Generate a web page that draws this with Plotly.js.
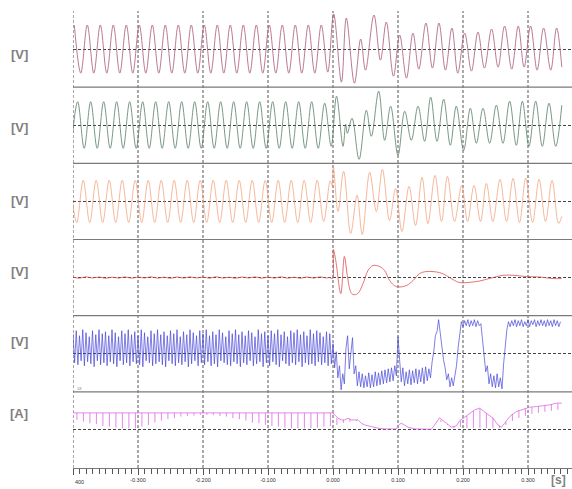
<!DOCTYPE html>
<html>
<head>
<meta charset="utf-8">
<script src="https://cdn.plot.ly/plotly-3.0.1.min.js"></script>
<style>html,body{margin:0;padding:0;background:#fff;}#chart{width:572px;height:489px;}</style>
</head>
<body>
<div id="chart"></div>
<script>
// ---------------- DATA (in panel units) ----------------
var tickVals = [-0.4, -0.3, -0.2, -0.1, 0.0, 0.1, 0.2, 0.3];
var tickText = ['', '-0.300', '-0.200', '-0.100', '0.000', '0.100', '0.200', '0.300'];
var firstTickText = '400';
var unitLabels = ['[V]', '[V]', '[V]', '[V]', '[V]', '[A]'];
var timeUnit = '[s]';

// Panel 1: extremes before the fault, every half period starting at v1PreStart
var halfPeriod = 0.01;
var v1PreStart = -0.398;
var v1Pre = [24,-24,24,-24,24,-24,24,-24,24,-24,24,-24,24,-24,24,-24,24,-24,24,-24,
             24,-24,24,-24,24,-24,24,-24,24,-24,24,-24,24,-24,24,-24,24,-24,24,-23];
var v1PostT = [0.001,0.013,0.0205,0.033,0.0426,0.05,0.063,0.073,0.082,0.093,0.1026,0.113,0.123,0.132,0.143,0.153,0.163,0.173,0.183,0.192,
               0.2026,0.213,0.223,0.233,0.244,0.254,0.264,0.275,0.285,0.294,0.304,0.314,0.324,0.335,0.344,0.352];
var v1PostV = [35,-33,31,-34,10,-21,34,-11,27,-27,14,-29,16,-20,26,-19,26,-21,21,-24,
               16,-22,17,-19,20,-18,23,-20,23,-18,23,-21,21,-21,21,-18];

// Panel 2
var v2PreStart = -0.4028;
var v2Pre = [-23,23.5,-23,23.5,-23,23.5,-23,23.5,-23,23.5,-23,23.5,-23,23.5,-23,23.5,-23,23.5,-23,23.5,
             -23,23.5,-23,23.5,-23,23.5,-23,23.5,-23,23.5,-23,23.5,-23,23.5,-23,23.5,-23,23.5,-23,22,-21];
var v2PostT = [0.0054,0.0154,0.0195,0.0221,0.0293,0.0401,0.0513,0.059,0.0703,0.0795,0.0887,0.1,0.1103,0.1205,0.1308,0.141,0.1503,0.16,0.1703,0.1805,
               0.1897,0.201,0.2113,0.2205,0.2308,0.241,0.2513,0.2615,0.2718,0.282,0.2913,0.3015,0.3118,0.322,0.3323,0.3426,0.352];
var v2PostV = [29,-21,1,-8,7,-34,15,-11,34,-15,19,-30,14,-15,19,-16,28,-16,26,-20,
               19,-25,17,-18,17,-18,20,-18,24,-20,24,-21,24,-21,22,-21,20];

// Panel 3
var v3PreStart = -0.4043;
var v3Pre = [21,-21,21,-21,21,-21,21,-21,21,-21,21,-21,21,-21,21,-21,21,-21,21,-21,
             21,-21,21,-21,21,-21,21,-21,21,-21,21,-21,21,-21,21,-21,21,-21,21,-20,20.5];
var v3PostT = [-0.0015,0.0006,0.0077,0.0164,0.0272,0.037,0.045,0.0564,0.0667,0.076,0.087,0.0964,0.106,0.117,0.127,0.137,0.146,0.157,0.167,0.176,
               0.187,0.198,0.207,0.217,0.227,0.236,0.246,0.257,0.267,0.277,0.287,0.2965,0.307,0.317,0.327,0.337,0.347,0.352];
var v3PostV = [16,35,-10,30,-32,6,-33,29,-10,32,-19,13,-30,15,-24,24,-22,26,-20,25,
               -20,16,-20,16,-20,18,-20,22,-20,23,-21,23,-21,22,-20,21,-22,-15];

// Panel 4: small ripple before the fault (every 0.01 s from -0.4), then the transient
var v4PreStart = -0.4;
var v4Pre = [0.5,-0.6,0.8,-0.4,0.6,-0.7,0.4,-0.5,0.7,-0.6,0.5,-0.4,0.8,-0.6,0.4,-0.7,0.6,-0.5,0.7,-0.4,
             0.5,-0.6,0.8,-0.5,0.4,-0.7,0.6,-0.4,0.7,-0.6,0.5,-0.5,0.8,-0.6,0.4,-0.7,0.6,-0.5,0.7,-0.4];
var v4PostT = [-0.005,-0.0008,0.0006,0.004,0.012,0.0175,0.022,0.027,0.031,0.038,0.0462,0.0538,0.0615,0.0718,0.0795,0.0872,0.0974,0.1128,0.1231,0.1333,
               0.1436,0.1641,0.1744,0.1846,0.1949,0.2051,0.2256,0.2462,0.2615,0.2769,0.2974,0.3179,0.3385,0.352];
var v4PostV = [0,-1,28,18,-16,21,2,-14,-17,-16,-6,7,12,11,7,-3,-9,-8,-3,4,
               6,5,2,-2,-5,-5,-3.4,0,2.3,2.3,1,0.6,-1,-1];

// Panel 5: sampled every 0.0025 s
var v5Dt = 0.0025;
var v5PreStart = -0.4;
var v5Pre = [20,-9,23,-11,18,-7,24,-12,21,-8,17,-10,23,-13,19,-7,24,-11,20,-9,
             22,-12,18,-8,24,-10,21,-13,17,-7,23,-11,20,-9,24,-12,19,-8,22,-10,
             18,-11,24,-13,21,-7,17,-9,23,-12,20,-10,24,-8,19,-11,22,-13,18,-7,
             23,-10,20,-12,24,-9,17,-11,22,-8,19,-13,24,-10,21,-7,18,-12,23,-9,
             20,-11,24,-8,18,-12,22,-10,19,-13,24,-7,21,-9,17,-11,23,-12,20,-8,
             24,-10,19,-13,22,-9,18,-11,23,-7,21,-12,17,-10,24,-8,20,-13,22,-9,
             18,-12,23,-8,20,-11,24,-13,19,-7,22,-10,17,-12,23,-9,21,-11,24,-8,
             19,-13,22,-9,18,-11,24,-10,20,-12,23,-8,21,-11,17,-9,22,-12,20,-10];
var v5PostStart = 0.0;
var v5Post = [10,-14,2,-24,-12,-36,-20,-30,6,18,
              -15,4,16,-20,-12,-32,-18,-33,-20,-34,
              -22,-33,-19,-34,-21,-33,-18,-32,-19,-31,
              -17,-30,-16,-29,-15,-28,-14,-27,-12,-22,
              17,-6,-28,-14,-32,-18,-30,-16,-31,-17,
              -29,-15,-30,-16,-28,-14,-30,-13,-27,-15,
              -24,-8,2,18,22,34,20,10,-6,-14,
              -26,-20,-33,-24,-32,-22,-12,6,22,32,
              27,33,28,34,27,33,28,34,27,33,
              28,30,14,-2,-18,-12,-30,-20,-33,-22,
              -34,-20,-33,-24,-35,-10,12,24,32,27,
              33,28,34,27,33,28,34,27,32,28,
              34,27,33,29,34,27,33,28,34,28,
              33,27,34,28,33,27,34,28,33,27,
              32];

// Panel 6: envelope curve plus periodic commutation notches (every 0.01 s from notchStart)
var v6BaseT = [-0.4,-0.3,-0.2,-0.1,0.0,0.0026,0.0077,0.0128,0.018,0.023,0.0282,0.0333,0.0385,0.0436,0.0487,0.059,0.0692,0.0795,0.0897,0.0974,
               0.101,0.105,0.11,0.1154,0.1256,0.141,0.1513,0.1564,0.164,0.1744,0.182,0.1898,0.195,0.2026,0.2103,0.218,0.2256,0.2359,0.2462,0.2538,
               0.259,0.2641,0.2718,0.282,0.2923,0.3026,0.3128,0.323,0.3333,0.3436,0.352];
var v6BaseV = [17,17,17,17,17,15,11.7,10,10,11.7,10,10,10,6.7,5,3.3,1.7,1,0.7,1,
               5,6.7,5,2.7,1,0.7,0.7,5,12,6.7,2.7,4,9.3,12.7,16.7,20,21.7,16.7,11.7,5,
               2.7,6.7,13.3,18.3,20.7,22.7,23.3,24,25,26.7,26.7];
var notchStart = -0.394;
var notchTop = [17,17,17,17,17,17,17,17,17,17,17,17,17,17,17,17,17,17,17,17,
                17,17,17,17,17,17,17,17,17,17,17,17,17,17,17,17,17,17,17,17,
                12,10,11,10,6,4,2,1,0.7,1,6,2.7,1,0.7,0.7,5,
                10,6,3,9,14,19,21.5,17,12,4,8,16,19,21,22.5,23.5,24.5,25.5,26.5];
var notchBottom = [10,8.3,6.7,6,4,3.3,2.3,1.7,1.7,1.7,3.3,5,7.3,9.3,10.7,11.7,13.3,14,14.3,15,
                   15,15,14,13.3,11.7,10.7,9.3,7.3,6.7,5,4,3.3,2.3,1.7,1.7,1.7,1.7,2.3,3.3,4,
                   5,7,8,9,6,4,2,1,0.7,1,6,2.7,1,0.7,0.7,5,
                   8,5,2,3,2,2,2,2,2,2,5,9,12,14,16,17,18,19,20];

var colors = ['#a8587a', '#587e64', '#f4a482', '#dc5050', '#4646d8', '#e066e6'];

// ---------------- BUILD ----------------
function seq(start, step, n) {
  var out = [];
  for (var i = 0; i < n; i++) out.push(+(start + i * step).toFixed(6));
  return out;
}

var traces = [];
function waveTrace(x, y, axis, color, shape, width) {
  return {x: x, y: y, xaxis: 'x', yaxis: axis, type: 'scatter', mode: 'lines',
          line: {color: color, width: width, shape: shape, smoothing: 1}, hoverinfo: 'skip'};
}
traces.push(waveTrace(seq(v1PreStart, halfPeriod, v1Pre.length).concat(v1PostT), v1Pre.concat(v1PostV), 'y', colors[0], 'spline', 0.8));
traces.push(waveTrace(seq(v2PreStart, halfPeriod, v2Pre.length).concat(v2PostT), v2Pre.concat(v2PostV), 'y2', colors[1], 'spline', 0.8));
traces.push(waveTrace(seq(v3PreStart, halfPeriod, v3Pre.length).concat(v3PostT), v3Pre.concat(v3PostV), 'y3', colors[2], 'spline', 0.8));
traces.push(waveTrace(seq(v4PreStart, halfPeriod, v4Pre.length).concat(v4PostT), v4Pre.concat(v4PostV), 'y4', colors[3], 'spline', 0.8));
traces.push(waveTrace(seq(v5PreStart, v5Dt, v5Pre.length).concat(seq(v5PostStart, v5Dt, v5Post.length)), v5Pre.concat(v5Post), 'y5', colors[4], 'linear', 0.7));
traces.push(waveTrace(v6BaseT, v6BaseV, 'y6', colors[5], 'linear', 0.8));
// notches: vertical segments
var nx = [], ny = [], nt = seq(notchStart, halfPeriod, notchTop.length);
for (var k = 0; k < nt.length; k++) {
  nx.push(nt[k], nt[k], null);
  ny.push(notchTop[k], notchBottom[k], null);
}
traces.push({x: nx, y: ny, xaxis: 'x', yaxis: 'y6', type: 'scatter', mode: 'lines',
             connectgaps: false, line: {color: colors[5], width: 0.8}, hoverinfo: 'skip'});

var nPanels = 6;
var layout = {
  width: 572, height: 489,
  margin: {l: 73, r: 0, t: 11, b: 21, pad: 0},
  paper_bgcolor: '#ffffff', plot_bgcolor: '#ffffff',
  showlegend: false,
  font: {family: 'Liberation Sans, Arial, sans-serif', color: '#444'},
  xaxis: {
    domain: [0, 1], range: [-0.4, 0.3677], anchor: 'y6',
    tickmode: 'array', tickvals: tickVals, ticktext: tickText,
    ticks: 'outside', ticklen: 6, tickwidth: 1, tickcolor: '#555',
    tickfont: {size: 5.5, color: '#333', family: 'Liberation Sans, Arial, sans-serif'},
    showline: true, linecolor: '#777', linewidth: 1,
    showgrid: false, zeroline: false, fixedrange: true,
    minor: {tickmode: 'linear', tick0: -0.4, dtick: 0.01, ticks: 'outside', ticklen: 5, tickcolor: '#555', showgrid: false}
  },
  shapes: [],
  annotations: []
};
var axisNames = ['yaxis', 'yaxis2', 'yaxis3', 'yaxis4', 'yaxis5', 'yaxis6'];
for (var p = 0; p < nPanels; p++) {
  layout[axisNames[p]] = {
    domain: [1 - (p + 1) / nPanels, 1 - p / nPanels], range: [-38, 38], anchor: 'x',
    tickmode: 'array', tickvals: [0], showticklabels: false, ticks: '',
    showgrid: true, gridcolor: '#444', gridwidth: 1, griddash: '3px,2px',
    zeroline: false, showline: false, fixedrange: true
  };
  if (p > 0) {
    layout.shapes.push({type: 'line', xref: 'paper', yref: 'paper', x0: 0, x1: 1,
      y0: 1 - p / nPanels, y1: 1 - p / nPanels, line: {color: '#7a7a7a', width: 1.2}, layer: 'above'});
  }
}
tickVals.forEach(function (tv) {
  layout.shapes.push({type: 'line', xref: 'x', yref: 'paper', x0: tv, x1: tv, y0: 0, y1: 1,
    line: {color: '#555', width: 1, dash: '3px,2px'}, layer: 'below'});
});
var unitY = [0.904, 0.744, 0.586, 0.431, 0.276, 0.12];
unitLabels.forEach(function (lab, i) {
  layout.annotations.push({text: '<b>' + lab + '</b>', xref: 'paper', yref: 'paper', x: -0.108, y: unitY[i],
    xanchor: 'center', yanchor: 'middle', showarrow: false,
    font: {size: 13, color: '#7f7f7f', family: 'Liberation Sans, Arial, sans-serif'}});
});
layout.annotations.push({text: firstTickText, xref: 'x', yref: 'paper', x: tickVals[0], y: -0.0305,
  xanchor: 'left', yanchor: 'middle', showarrow: false, font: {size: 5.5, color: '#333'}});
layout.annotations.push({text: '<b>' + timeUnit + '</b>', xref: 'paper', yref: 'paper', x: 0.972, y: -0.027,
  xanchor: 'center', yanchor: 'middle', showarrow: false, font: {size: 12, color: '#7f7f7f'}});
layout.annotations.push({text: '18', xref: 'paper', yref: 'paper', x: 0.004, y: 0.174,
  xanchor: 'left', yanchor: 'middle', showarrow: false, font: {size: 4, color: '#888'}});

Plotly.newPlot('chart', traces, layout, {staticPlot: true, displayModeBar: false});
</script>
</body>
</html>
